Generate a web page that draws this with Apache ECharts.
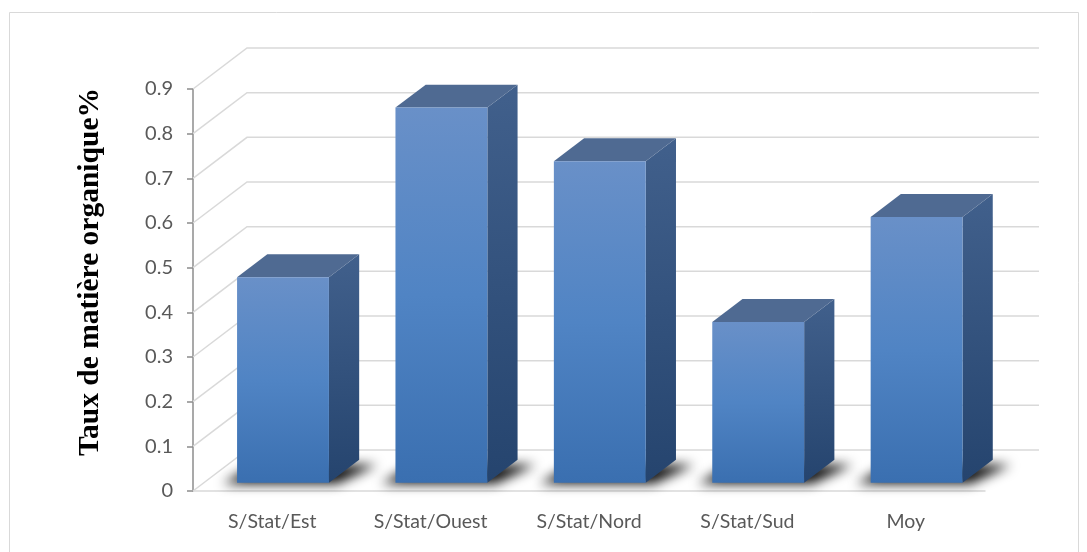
<!DOCTYPE html>
<html>
<head>
<meta charset="utf-8">
<script src="https://cdn.jsdelivr.net/npm/echarts@6/dist/echarts.min.js"></script>
<style>
  html, body { margin: 0; padding: 0; background: #fff; }
  #main { width: 1087px; height: 552px; }
</style>
</head>
<body>
<div id="main"></div>
<script>
// donnees du graphique
const categories = ['S/Stat/Est', 'S/Stat/Ouest', 'S/Stat/Nord', 'S/Stat/Sud', 'Moy']
const values = [0.46, 0.84, 0.72, 0.36, 0.595]
const tickValues = [0, 0.1, 0.2, 0.3, 0.4, 0.5, 0.6, 0.7, 0.8, 0.9]

// perspective (pixels) : decalage de la paroi du fond
const DX = 54
const DY = 41
const BAR_FRONT = 0.2 // position de la face avant de la barre dans la profondeur
const BAR_DEPTH = 0.56 // profondeur de la barre
const BAR_W = 0.58 // largeur de barre / largeur de bande
const SHADOW_SHIFT = 1500 // la forme est dessinee hors champ, seule l'ombre floue reste visible

const myChart = echarts.init(document.getElementById('main'))

// murs et lignes de grille en perspective
function renderWall(params, api) {
  const cs = params.coordSys
  const v = api.value(1)
  const y = api.coord([0, v])[1]
  const x0 = cs.x
  const x1 = cs.x + cs.width
  return {
    type: 'polyline',
    shape: { points: [[x0, y], [x0 + DX, y - DY], [x1 + DX, y - DY]] },
    style: { stroke: '#d9d9d9', lineWidth: 1.5, fill: null }
  }
}

function renderBar(params, api) {
  const idx = api.value(0)
  const v = api.value(1)
  const base = api.coord([idx, 0])
  const top = api.coord([idx, v])
  const bw = api.size([1, 0])[0] * BAR_W
  const fx = DX * BAR_FRONT
  const fy = DY * BAR_FRONT
  const sx = DX * BAR_DEPTH
  const sy = DY * BAR_DEPTH
  const l = base[0] - bw / 2 + fx
  const r = base[0] + bw / 2 + fx
  const yb = base[1] - fy
  const yt = top[1] - fy
  const S = SHADOW_SHIFT

  return {
    type: 'group',
    children: [
      // ombre au sol (floue)
      {
        type: 'polygon',
        shape: {
          points: [
            [l - 14 - S, yb + 1],
            [r + 8 - S, yb + 1],
            [r + sx + 18 - S, yb - sy + 5],
            [l + sx - 12 - S, yb - sy + 5]
          ]
        },
        style: {
          fill: '#000',
          shadowBlur: 12,
          shadowColor: 'rgba(0,0,0,0.95)',
          shadowOffsetX: S
        },
        z2: 0
      },
      // face laterale
      {
        type: 'polygon',
        shape: { points: [[r, yb], [r + sx, yb - sy], [r + sx, yt - sy], [r, yt]] },
        style: {
          fill: new echarts.graphic.LinearGradient(0, 0, 0, 1, [
            { offset: 0, color: '#41608c' },
            { offset: 1, color: '#25446e' }
          ])
        },
        z2: 1
      },
      // dessus
      {
        type: 'polygon',
        shape: { points: [[l, yt], [r, yt], [r + sx, yt - sy], [l + sx, yt - sy]] },
        style: { fill: '#4f6a92' },
        z2: 1
      },
      // face avant
      {
        type: 'rect',
        shape: { x: l, y: yt, width: bw, height: yb - yt },
        style: {
          fill: new echarts.graphic.LinearGradient(0, 0, 0, 1, [
            { offset: 0, color: '#6990c8' },
            { offset: 0.5, color: '#5084c4' },
            { offset: 1, color: '#3a6fb0' }
          ])
        },
        z2: 2
      }
    ]
  }
}

var option
option = {
  backgroundColor: '#fff',
  animation: false,
  graphic: [
    {
      type: 'rect',
      shape: { x: 9.5, y: 12.5, width: 1069, height: 560 },
      style: { fill: null, stroke: '#d9d9d9', lineWidth: 1 }
    }
  ],
  grid: {
    left: 193,
    right: 102,
    top: 89,
    bottom: 61
  },
  xAxis: {
    type: 'category',
    data: categories,
    axisLine: { lineStyle: { color: '#d9d9d9', width: 1.5 } },
    axisTick: { show: false },
    axisLabel: {
      color: '#595959',
      fontFamily: 'Lato',
      fontSize: 19.5,
      margin: 21
    }
  },
  yAxis: {
    type: 'value',
    min: 0,
    max: 0.9,
    interval: 0.1,
    name: 'Taux de matière organique%',
    nameLocation: 'middle',
    nameRotate: 90,
    nameGap: 88,
    nameTextStyle: {
      fontFamily: 'Liberation Serif',
      fontWeight: 'bold',
      fontSize: 29.5,
      color: '#000',
      padding: [0, 0, 0, 36]
    },
    axisLine: { show: true, lineStyle: { color: '#8c8c8c', width: 1.5 } },
    axisTick: { show: true, length: 6, lineStyle: { color: '#8c8c8c', width: 1.5 } },
    axisLabel: {
      color: '#595959',
      fontFamily: 'Lato',
      fontSize: 20,
      margin: 20
    },
    splitLine: { show: false }
  },
  series: [
    {
      type: 'custom',
      renderItem: renderWall,
      data: tickValues.map((v) => [0, v]),
      z: 1,
      silent: true
    },
    {
      type: 'custom',
      renderItem: renderBar,
      data: values.map((v, i) => [i, v]),
      z: 3
    }
  ]
}
option && myChart.setOption(option)
</script>
</body>
</html>
